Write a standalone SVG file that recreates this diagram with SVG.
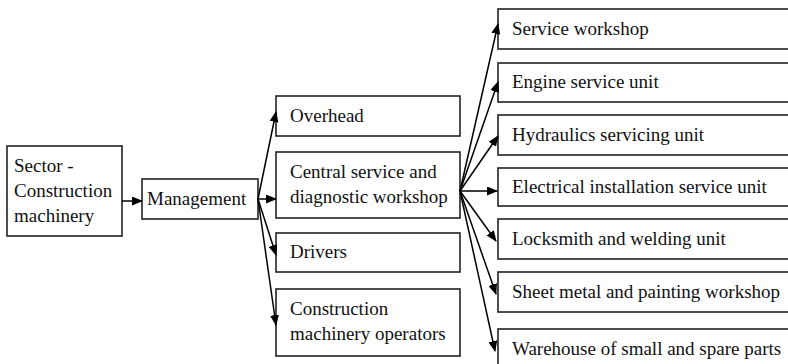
<svg xmlns="http://www.w3.org/2000/svg" width="788" height="364" viewBox="0 0 788 364">
<defs>
<marker id="ah" markerWidth="11" markerHeight="9" refX="10" refY="4.5" orient="auto" markerUnits="userSpaceOnUse">
<path d="M0,0 L11,4.5 L0,9 Z" fill="#000"/>
</marker>
<style>
.n{fill:#fff;stroke:#222;stroke-width:1.6}
text{font-family:"Liberation Serif","Times New Roman",serif;font-size:19px;fill:#111}
#connectors line{stroke:#000;stroke-width:1.5;marker-end:url(#ah)}
</style>
</defs>
<rect width="788" height="364" fill="#fff"/>
<g id="sector"><rect class="n" x="7" y="146" width="115" height="90"/><text x="14" y="172">Sector -</text><text x="14" y="197">Construction</text><text x="14" y="222">machinery</text></g>
<g id="management"><rect class="n" x="142" y="179" width="116" height="40"/><text x="147" y="205">Management</text></g>
<g id="overhead"><rect class="n" x="276" y="96" width="184" height="40"/><text x="290" y="122">Overhead</text></g>
<g id="central"><rect class="n" x="276" y="152" width="184" height="66"/><text x="290" y="178">Central service and</text><text x="290" y="203">diagnostic workshop</text></g>
<g id="drivers"><rect class="n" x="276" y="233" width="184" height="39"/><text x="290" y="258">Drivers</text></g>
<g id="operators"><rect class="n" x="276" y="289" width="184" height="67"/><text x="290" y="315">Construction</text><text x="290" y="340">machinery operators</text></g>
<g id="service-workshop"><rect class="n" x="498" y="9" width="300" height="40"/><text x="512" y="35">Service workshop</text></g>
<g id="engine"><rect class="n" x="498" y="63" width="300" height="39"/><text x="512" y="88">Engine service unit</text></g>
<g id="hydraulics"><rect class="n" x="498" y="115" width="300" height="40"/><text x="512" y="141">Hydraulics servicing unit</text></g>
<g id="electrical"><rect class="n" x="498" y="168" width="300" height="38"/><text x="512" y="193">Electrical installation service unit</text></g>
<g id="locksmith"><rect class="n" x="498" y="219" width="300" height="40"/><text x="512" y="245">Locksmith and welding unit</text></g>
<g id="sheetmetal"><rect class="n" x="498" y="272" width="300" height="40"/><text x="512" y="298">Sheet metal and painting workshop</text></g>
<g id="warehouse"><rect class="n" x="498" y="329" width="300" height="40"/><text x="512" y="355">Warehouse of small and spare parts</text></g>
<g id="connectors">
<line x1="122" y1="201" x2="142" y2="201"/>
<line x1="258" y1="199" x2="276" y2="112"/>
<line x1="258" y1="199" x2="276" y2="199"/>
<line x1="258" y1="199" x2="276" y2="255"/>
<line x1="258" y1="199" x2="276" y2="325"/>
<line x1="460" y1="191" x2="498" y2="24"/>
<line x1="460" y1="191" x2="498" y2="82"/>
<line x1="460" y1="191" x2="498" y2="136"/>
<line x1="460" y1="191" x2="497" y2="191"/>
<line x1="460" y1="191" x2="496" y2="241"/>
<line x1="460" y1="191" x2="496" y2="294"/>
<line x1="460" y1="191" x2="495" y2="351"/>
</g>
</svg>
